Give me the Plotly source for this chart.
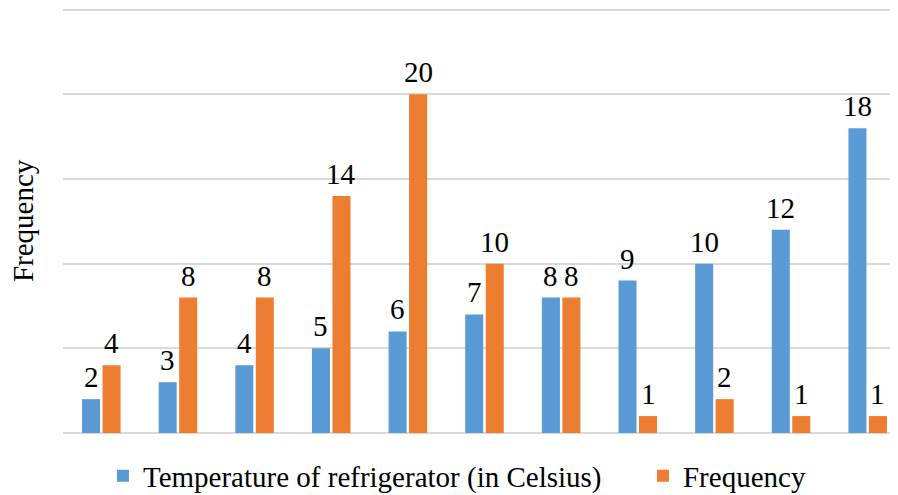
import plotly.graph_objects as go

categories = [str(i) for i in range(1, 12)]
temperature = [2, 3, 4, 5, 6, 7, 8, 9, 10, 12, 18]
frequency = [4, 8, 8, 14, 20, 10, 8, 1, 2, 1, 1]
series_names = ["Temperature of refrigerator (in Celsius)", "Frequency"]
colors = ["#5b9bd5", "#ed7d31"]

FONT = "Liberation Serif"
FS = 29

fig = go.Figure()
for name, vals, col, lg in zip(series_names, [temperature, frequency], colors, ["legend", "legend2"]):
    fig.add_trace(go.Bar(
        x=categories, y=vals, name=name, legend=lg,
        marker=dict(color=col, line=dict(width=0)),
    ))

# data labels above bars (x given as category index)
for vals, shift in [(temperature, -10.25), (frequency, 10.25)]:
    for i, v in enumerate(vals):
        fig.add_annotation(x=i, y=v, xref="x", yref="y", text=str(v), showarrow=False,
                           yanchor="bottom", xanchor="center", xshift=shift, yshift=4,
                           font=dict(family=FONT, size=FS, color="black"))

fig.add_annotation(x=-0.048, y=0.5, xref="paper", yref="paper", text="Frequency",
                   textangle=-90, showarrow=False, xanchor="center", yanchor="middle",
                   font=dict(family=FONT, size=FS, color="black"))

legend_common = dict(orientation="h", y=-0.101, yanchor="middle", xanchor="left",
                     font=dict(family=FONT, size=FS, color="black"), itemwidth=30,
                     bgcolor="rgba(0,0,0,0)")

fig.update_layout(
    width=898, height=495,
    margin=dict(l=55, r=0, t=0, b=70, autoexpand=False),
    paper_bgcolor="white", plot_bgcolor="white",
    barmode="group", bargap=0.465, bargroupgap=0.12,
    font=dict(family=FONT, size=FS, color="black"),
    showlegend=True,
    legend=dict(x=0.0474, **legend_common),
    legend2=dict(x=0.688, **legend_common),
    xaxis=dict(type="category", showticklabels=False, showgrid=False, zeroline=False,
               showline=False, ticks=""),
    yaxis=dict(range=[0, 25.1], dtick=5, showticklabels=False, showgrid=True,
               gridcolor="#d9d9d9", gridwidth=2, zeroline=True, zerolinecolor="#d9d9d9",
               zerolinewidth=2, showline=False, ticks=""),
)

fig.write_html("out.html")
